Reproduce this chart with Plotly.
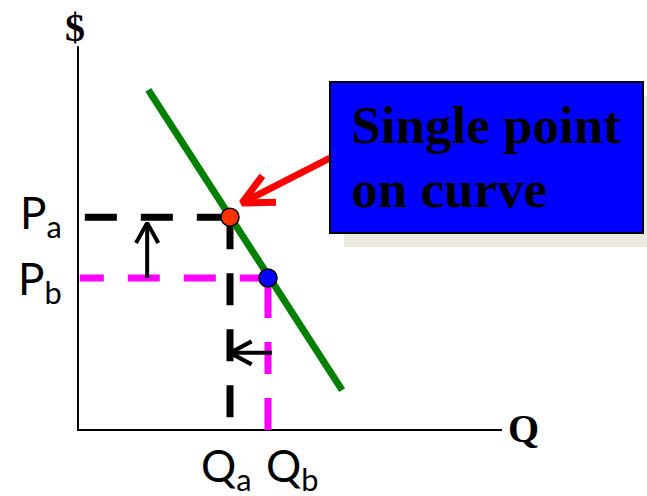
import math
import plotly.graph_objects as go

# ---------------- data ----------------
axis_titles = ["$", "Q"]
quantity_labels = ["Q<sub>a</sub>", "Q<sub>b</sub>"]
price_labels = ["P<sub>a</sub>", "P<sub>b</sub>"]
q_points = [4.0, 5.0]          # Qa, Qb
p_points = [5.6, 4.0]          # Pa, Pb
demand_q = [1.85, 6.95]
demand_p = [8.95, 1.05]
axis_len = [11.16, 10.1]       # length of Q axis, length of $ axis
point_colors = ["#FF3300", "#0000FF"]
guide_colors = ["#000000", "#FF00FF"]
callout_text = ["Single point", "on curve"]

# ---------------- layout helpers ----------------
W, H = 647, 496
K = 38.0                 # pixels per unit
OX, OY = 78.0, 430.0     # pixel position of origin
x_range = [-OX / K, (W - OX) / K]
y_range = [(OY - H) / K, OY / K]


def to_px(q, p):
    return OX + q * K, OY - p * K


def to_data(px, py):
    return (px - OX) / K, (OY - py) / K


def chevron(tail, tip, arm_len, half_angle_deg):
    """Return x, y lists for an arrow shaft plus an open chevron head."""
    tx, ty = to_px(*tail)
    hx, hy = to_px(*tip)
    dx, dy = hx - tx, hy - ty
    n = math.hypot(dx, dy)
    ux, uy = -dx / n, -dy / n
    pts = []
    for s in (1, -1):
        a = math.radians(half_angle_deg) * s
        rx = ux * math.cos(a) - uy * math.sin(a)
        ry = ux * math.sin(a) + uy * math.cos(a)
        pts.append(to_data(hx + rx * arm_len, hy + ry * arm_len))
    xs = [tail[0], tip[0], None, pts[0][0], tip[0], pts[1][0]]
    ys = [tail[1], tip[1], None, pts[0][1], tip[1], pts[1][1]]
    return xs, ys


Qa, Qb = q_points
Pa, Pb = p_points

fig = go.Figure()

# axes
fig.add_trace(go.Scatter(x=[0, 0, axis_len[0]], y=[axis_len[1], 0, 0], mode="lines",
                         line=dict(color="black", width=2), hoverinfo="skip"))

# dashed guides
dash = "32px,24px"
fig.add_trace(go.Scatter(x=[0.18, Qa], y=[Pa, Pa], mode="lines",
                         line=dict(color=guide_colors[0], width=7, dash=dash), hoverinfo="skip"))
fig.add_trace(go.Scatter(x=[Qa, Qa], y=[Pa, 0.32], mode="lines",
                         line=dict(color=guide_colors[0], width=7, dash=dash), hoverinfo="skip"))
fig.add_trace(go.Scatter(x=[Qb + 0.1, 0.05], y=[Pb, Pb], mode="lines",
                         line=dict(color=guide_colors[1], width=7, dash=dash), hoverinfo="skip"))
fig.add_trace(go.Scatter(x=[Qb, Qb], y=[0, Pb], mode="lines",
                         line=dict(color=guide_colors[1], width=7, dash=dash), hoverinfo="skip"))

# demand curve
fig.add_trace(go.Scatter(x=demand_q, y=demand_p, mode="lines",
                         line=dict(color="#008000", width=7), hoverinfo="skip"))

# small black arrows
ax, ay = chevron((1.82, Pb), (1.82, Pa - 0.15), 23, 29)
fig.add_trace(go.Scatter(x=ax, y=ay, mode="lines", line=dict(color="black", width=4),
                         hoverinfo="skip"))
ax, ay = chevron((Qb + 0.1, 2.03), (Qa, 2.03), 24.5, 28)
fig.add_trace(go.Scatter(x=ax, y=ay, mode="lines", line=dict(color="black", width=4),
                         hoverinfo="skip"))

# red callout arrow
ax, ay = chevron(to_data(330, 158), to_data(242, 203), 34, 26)
fig.add_trace(go.Scatter(x=ax, y=ay, mode="lines", line=dict(color="#FF0000", width=7),
                         hoverinfo="skip"))

# points
fig.add_trace(go.Scatter(x=q_points, y=p_points, mode="markers",
                         marker=dict(size=18, color=point_colors, line=dict(color="black", width=1.5)),
                         hoverinfo="skip"))

# callout box (shadow + box)
bx0, by0 = to_data(330, 82)
bx1, by1 = to_data(643, 233)
sh = 14 / K
fig.add_shape(type="rect", x0=bx0 + sh, x1=bx1 + sh, y0=by0 - sh, y1=by1 - sh,
              fillcolor="#ECEAE0", line=dict(width=0), layer="above")
fig.add_shape(type="rect", x0=bx0, x1=bx1, y0=by0, y1=by1,
              fillcolor="#0000FF", line=dict(color="black", width=2), layer="above")

serif_bold = dict(family="Liberation Serif, Times New Roman, serif", color="black")
for txt, py in zip(callout_text, [125, 189]):
    x, y = to_data(349, py)
    fig.add_annotation(x=x, y=y, text="<b>" + txt + "</b>", showarrow=False,
                       xanchor="left", yanchor="middle", font=dict(size=53, **serif_bold))

# axis titles
x, y = to_data(75, 27)
fig.add_annotation(x=x, y=y, text="<b>" + axis_titles[0] + "</b>", showarrow=False,
                   xanchor="center", yanchor="middle", font=dict(size=40, **serif_bold))
x, y = to_data(523, 428)
fig.add_annotation(x=x, y=y, text="<b>" + axis_titles[1] + "</b>", showarrow=False,
                   xanchor="center", yanchor="middle", font=dict(size=40, **serif_bold))

# P / Q labels
sans = dict(family="Lato, Carlito, Calibri, sans-serif", color="black", size=44)
for lab, p, py in zip(price_labels, p_points, [215, 281]):
    x, y = to_data(64, py)
    fig.add_annotation(x=x, y=y, text=lab, showarrow=False, xanchor="right",
                       yanchor="middle", font=sans)
for lab, q, px in zip(quantity_labels, q_points, [199, 264]):
    x, y = to_data(px, 468)
    fig.add_annotation(x=x, y=y, text=lab, showarrow=False, xanchor="left",
                       yanchor="middle", font=sans)

fig.update_layout(
    width=W, height=H,
    margin=dict(l=0, r=0, t=0, b=0),
    paper_bgcolor="white", plot_bgcolor="white",
    showlegend=False,
    xaxis=dict(range=x_range, visible=False, fixedrange=True),
    yaxis=dict(range=y_range, visible=False, fixedrange=True),
)

fig.write_html("out.html", config={"displayModeBar": False},
               post_script="document.body.style.margin='0';document.body.style.overflow='hidden';")
